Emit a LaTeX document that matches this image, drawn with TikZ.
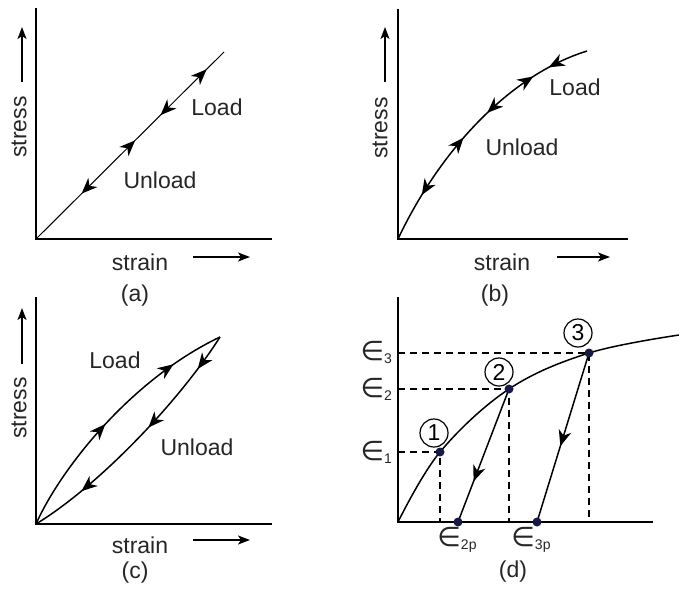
\documentclass[tikz,border=0pt]{standalone}
\usepackage{fontspec}
\setmainfont{Liberation Sans}
\newfontfamily\symf{DejaVu Sans}
\usetikzlibrary{arrows.meta,decorations.markings}
\newcommand{\epslab}[1]{{\symf\fontsize{27}{29}\selectfont ∈}\raisebox{-0.3em}{\fontsize{14}{15}\selectfont #1}}
\newcommand{\headf}{\fill (2pt,0pt) -- (-14pt,6.5pt) -- (-9pt,0pt) -- (-14pt,-6.5pt) -- cycle;}
\newcommand{\headr}{\fill (-2pt,0pt) -- (14pt,6.5pt) -- (9pt,0pt) -- (14pt,-6.5pt) -- cycle;}
\tikzset{
  ax/.style={line width=1.8pt},
  crv/.style={line width=1.5pt},
  thinl/.style={line width=1pt},
  dsh/.style={line width=1.3pt, dash pattern=on 7pt off 5pt},
  fa/.style={postaction={decorate,decoration={markings,mark=at position #1 with {\headf}}}},
  ra/.style={postaction={decorate,decoration={markings,mark=at position #1 with {\headr}}}},
  lbl/.style={font=\fontsize{23}{26}\selectfont, inner sep=0pt, text=black!85},
  dir/.style={line width=1.6pt, -{Stealth[length=12pt,width=9pt,inset=3pt]}},
  dot/.style={circle, fill={rgb,255:red,25;green,25;blue,70}, minimum size=9pt, inner sep=0pt},
  num/.style={circle, draw, line width=1.2pt, minimum size=28pt, inner sep=0pt, font=\fontsize{23}{25}\selectfont},
  elab/.style={inner sep=0pt, text=black!85}
}
\begin{document}
\begin{tikzpicture}[x=1pt,y=-1pt]
\useasboundingbox (0,0) rectangle (679,594);
% ---------- (a)
\coordinate (aO) at (36,239);
\coordinate (aY) at (36,8);
\coordinate (aX) at (272,239);
\coordinate (aE) at (224,52);
\draw[ax] (aY) -- (aO) -- (aX);
\draw[thinl, fa=0.90, ra=0.67, fa=0.52, ra=0.25] (aO) -- (aE);
\node[lbl] (aload) at (217,107) {Load};
\node[lbl] (aunload) at (160,180) {Unload};
\node[lbl, rotate=90] (astress) at (19,127) {stress};
\coordinate (asa) at (22,82); \coordinate (asb) at (22,27);
\draw[dir] (asa) -- (asb);
\node[lbl] (astrain) at (140,262) {strain};
\coordinate (axa) at (193,257); \coordinate (axb) at (250,257);
\draw[dir] (axa) -- (axb);
\node[lbl] (acap) at (135,296) {(a)};
% ---------- (b)
\coordinate (bO) at (398,239);
\coordinate (bY) at (398,9);
\coordinate (bX) at (628,239);
\coordinate (bE) at (587,51);
\draw[ax] (bY) -- (bO) -- (bX);
\draw[crv, ra=0.19, fa=0.435, ra=0.575, fa=0.775, ra=0.855] (bO) .. controls (440,150) and (510,75) .. (bE);
\node[lbl] (bload) at (575,87) {Load};
\node[lbl] (bunload) at (522,147) {Unload};
\node[lbl, rotate=90] (bstress) at (380,128) {stress};
\coordinate (bsa) at (385,82); \coordinate (bsb) at (385,27);
\draw[dir] (bsa) -- (bsb);
\node[lbl] (bstrain) at (502,262) {strain};
\coordinate (bxa) at (557,257); \coordinate (bxb) at (610,257);
\draw[dir] (bxa) -- (bxb);
\node[lbl] (bcap) at (495,296) {(b)};
% ---------- (c)
\coordinate (cO) at (36,524);
\coordinate (cY) at (36,297);
\coordinate (cX) at (272,524);
\coordinate (cT) at (220,337);
\draw[ax] (cY) -- (cO) -- (cX);
\draw[crv, fa=0.45, fa=0.79] (cO) .. controls (60,470) and (130,380) .. (cT);
\draw[crv, fa=0.14, fa=0.43, fa=0.78] (cT) .. controls (180,400) and (100,485) .. (cO);
\node[lbl] (cload) at (115,360) {Load};
\node[lbl] (cunload) at (197,447) {Unload};
\node[lbl, rotate=90] (cstress) at (19,408) {stress};
\coordinate (csa) at (22,364); \coordinate (csb) at (22,308);
\draw[dir] (csa) -- (csb);
\node[lbl] (cstrain) at (140,545) {strain};
\coordinate (cxa) at (193,540); \coordinate (cxb) at (250,540);
\draw[dir] (cxa) -- (cxb);
\node[lbl] (ccap) at (135,573) {(c)};
% ---------- (d)
\coordinate (dO) at (398,522);
\coordinate (dY) at (398,297);
\coordinate (dX) at (653,522);
\coordinate (dE) at (679,335);
\coordinate (p1) at (440,452);
\coordinate (p2) at (509,389);
\coordinate (p3) at (589,353);
\coordinate (q2) at (458,522);
\coordinate (q3) at (537,522);
\coordinate (h1) at (398,452); \coordinate (h2) at (398,389); \coordinate (h3) at (398,353);
\coordinate (v1) at (440,522); \coordinate (v2) at (509,522); \coordinate (v3) at (589,522);
\draw[dsh] (h1) -- (p1) -- (v1);
\draw[dsh] (h2) -- (p2) -- (v2);
\draw[dsh] (h3) -- (p3) -- (v3);
\draw[ax] (dY) -- (dO) -- (dX);
\draw[crv] plot[smooth, tension=0.6] coordinates {(398,522) (440,452) (509,389) (589,353) (679,335)};
\draw[crv, fa=0.68] (p2) -- (q2);
\draw[crv, fa=0.54] (p3) -- (q3);
\node[dot] (d1) at (p1) {};
\node[dot] (d2) at (p2) {};
\node[dot] (d3) at (p3) {};
\node[dot] (dq2) at (q2) {};
\node[dot] (dq3) at (q3) {};
\node[num] (n1) at (434,433) {1};
\node[num] (n2) at (499,372) {2};
\node[num] (n3) at (578,333) {3};
\node[elab, anchor=east] (e3) at (392,352) {\epslab{3}};
\node[elab, anchor=east] (e2) at (392,389) {\epslab{2}};
\node[elab, anchor=east] (e1) at (392,452) {\epslab{1}};
\node[elab] (e2p) at (457,540) {\epslab{2p}};
\node[elab] (e3p) at (531,540) {\epslab{3p}};
\node[lbl] (dcap) at (513,572) {(d)};
\end{tikzpicture}
\end{document}
